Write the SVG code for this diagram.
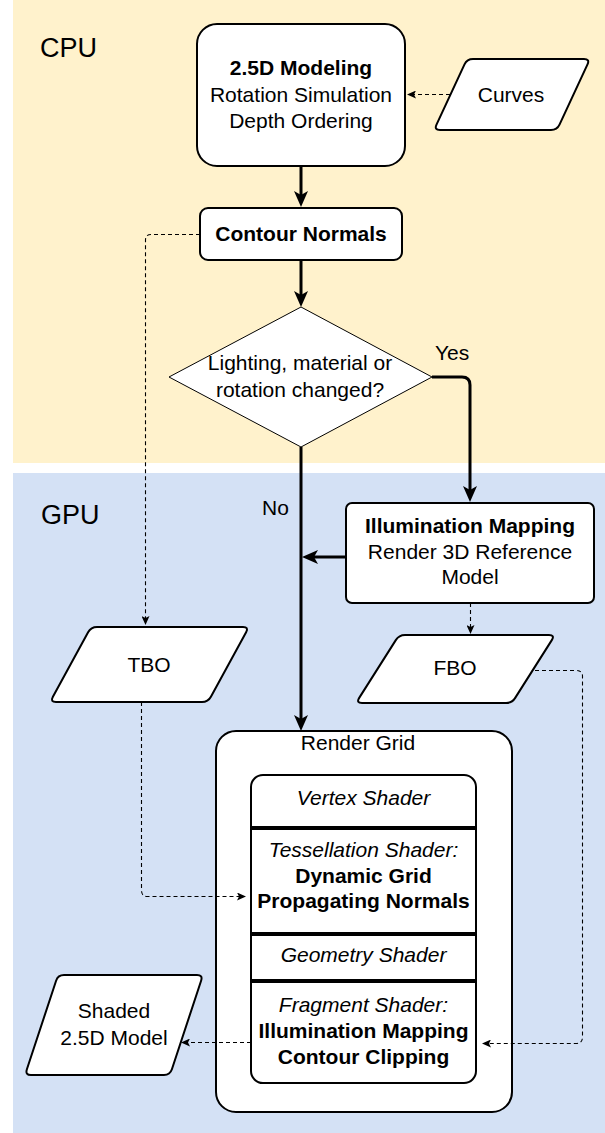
<svg xmlns="http://www.w3.org/2000/svg" width="605" height="1133" viewBox="0 0 605 1133">
<style>
text{font-family:"Liberation Sans",Arial,Helvetica,sans-serif;font-size:21px;fill:#000;text-anchor:middle}
.b{font-weight:bold}
.i{font-style:italic}
.lbl{font-size:27px;text-anchor:start}
.st{text-anchor:start}
.box{fill:#fff;stroke:#000;stroke-width:2}
.thick{fill:none;stroke:#000;stroke-width:3}
.dash{fill:none;stroke:#000;stroke-width:1.1;stroke-dasharray:4 3}
.div{stroke:#000;stroke-width:4}
</style>
<defs>
<marker id="ah" markerUnits="userSpaceOnUse" markerWidth="16" markerHeight="14" viewBox="0 0 16 14" refX="6" refY="7" orient="auto"><path d="M0,0 L16,7 L0,14 L4,7 Z" fill="#000"/></marker>
<marker id="as" markerUnits="userSpaceOnUse" markerWidth="9" markerHeight="8" viewBox="0 0 9 8" refX="4" refY="4" orient="auto"><path d="M0,0 L9,4 L0,8 L2,4 Z" fill="#000"/></marker>
</defs>
<g id="background">
<rect x="13" y="0" width="592" height="463" fill="#fff2cc"/>
<rect x="13" y="473" width="592" height="660" fill="#d4e1f5"/>
<text class="lbl" x="40" y="57">CPU</text>
<text class="lbl" x="41" y="524">GPU</text>
</g>
<g id="modeling">
<rect class="box" x="197" y="24" width="208" height="142" rx="20"/>
<text class="b" x="301" y="75">2.5D Modeling</text>
<text x="301" y="102">Rotation Simulation</text>
<text x="301" y="128">Depth Ordering</text>
</g>
<g id="curves">
<path class="box" d="M473,59 L584,59 Q590,59 587.5,64.4 L559.5,124.6 Q557,130 551,130 L440,130 Q434,130 436.5,124.6 L464.5,64.4 Q467,59 473,59 Z"/>
<text x="511" y="102">Curves</text>
</g>
<g id="contour">
<rect class="box" x="200" y="208" width="202" height="52" rx="8"/>
<text class="b" x="301" y="241">Contour Normals</text>
</g>
<g id="decision">
<polygon points="301,307 432,377 301,447 169,377" fill="#fff" stroke="#000" stroke-width="1"/>
<text x="300" y="370">Lighting, material or</text>
<text x="300" y="397">rotation changed?</text>
</g>
<g id="illumination">
<rect class="box" x="346" y="503" width="248" height="100" rx="6"/>
<text class="b" x="470" y="533">Illumination Mapping</text>
<text x="470" y="559">Render 3D Reference</text>
<text x="470" y="584">Model</text>
</g>
<g id="tbo">
<path class="box" d="M97,627 L243,627 Q249,627 246.1,632.3 L210.9,696.7 Q208,702 202,702 L56,702 Q50,702 52.9,696.7 L88.1,632.3 Q91,627 97,627 Z"/>
<text x="149" y="672">TBO</text>
</g>
<g id="fbo">
<path class="box" d="M405,635 L549,635 Q555,635 551.8,640.1 L515.2,697.9 Q512,703 506,703 L362,703 Q356,703 359.2,697.9 L395.8,640.1 Q399,635 405,635 Z"/>
<text x="455" y="675">FBO</text>
</g>
<g id="shaded">
<path class="box" d="M64,975 L197,975 Q203,975 201.1,980.7 L171.9,1069.3 Q170,1075 164,1075 L31,1075 Q25,1075 26.9,1069.3 L56.1,980.7 Q58,975 64,975 Z"/>
<text x="114" y="1018">Shaded</text>
<text x="114" y="1045">2.5D Model</text>
</g>
<g id="render-grid">
<rect class="box" x="216" y="731" width="296" height="381" rx="20"/>
<text x="358" y="750">Render Grid</text>
</g>
<g id="shader-stack">
<rect class="box" x="251" y="775" width="225" height="308" rx="12"/>
<line class="div" x1="251" y1="828" x2="476" y2="828"/>
<line class="div" x1="251" y1="934" x2="476" y2="934"/>
<line class="div" x1="251" y1="981" x2="476" y2="981"/>
<text class="i" x="363.5" y="805">Vertex Shader</text>
<text class="i" x="363.5" y="857">Tessellation Shader:</text>
<text class="b" x="363.5" y="883">Dynamic Grid</text>
<text class="b" x="363.5" y="908">Propagating Normals</text>
<text class="i" x="363.5" y="962">Geometry Shader</text>
<text class="i" x="363.5" y="1012">Fragment Shader:</text>
<text class="b" x="363.5" y="1038">Illumination Mapping</text>
<text class="b" x="363.5" y="1064">Contour Clipping</text>
</g>
<g id="connectors">
<path class="thick" d="M301,166 L301,197" marker-end="url(#ah)"/>
<path class="dash" d="M450,94.5 L412,94.5" marker-end="url(#as)"/>
<path class="dash" d="M200,234.5 L151,234.5 Q145.5,234.5 145.5,240 L145.5,620" marker-end="url(#as)"/>
<path class="thick" d="M301,260 L301,297" marker-end="url(#ah)"/>
<path class="thick" d="M432,377 L462,377 Q470,377 470,385 L470,492" marker-end="url(#ah)"/>
<path class="thick" d="M301,447 L301,721" marker-end="url(#ah)"/>
<path class="thick" d="M346,557 L312,557" marker-end="url(#ah)"/>
<path class="dash" d="M470.5,603 L470.5,629" marker-end="url(#as)"/>
<path class="dash" d="M141.5,702 L141.5,890 Q141.5,896.5 147,896.5 L241,896.5" marker-end="url(#as)"/>
<path class="dash" d="M535,670.5 L576,670.5 Q582.5,670.5 582.5,676 L582.5,1037 Q582.5,1043.5 576,1043.5 L487,1043.5" marker-end="url(#as)"/>
<path class="dash" d="M251,1042.5 L186,1042.5" marker-end="url(#as)"/>
<text class="st" x="435" y="360">Yes</text>
<text class="st" x="262" y="515">No</text>
</g>
</svg>
